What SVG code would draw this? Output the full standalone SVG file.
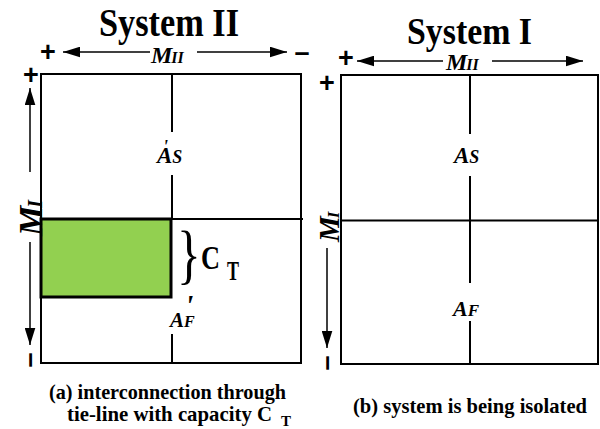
<svg xmlns="http://www.w3.org/2000/svg" width="600" height="429" viewBox="0 0 600 429">
<style>
.t{font-family:"Liberation Serif","Times New Roman",serif;font-weight:bold;fill:#000}
.i{font-style:italic}
.s{font-family:"Liberation Sans",Arial,sans-serif;font-weight:bold;fill:#000;font-size:27px}
.ln{stroke:#000;stroke-width:2;fill:none}
.ar{stroke:#000;stroke-width:1.5;fill:none}
.cap{font-size:21px}
</style>
<defs>
<marker id="ah" viewBox="0 0 16 10" refX="16" refY="5" markerWidth="17" markerHeight="11" markerUnits="userSpaceOnUse" orient="auto">
<path d="M0,0 L16,5 L0,10 Z" fill="#000"/>
</marker>
</defs>
<rect width="600" height="429" fill="#fff"/>

<g id="title-a"><text class="t" x="99" y="36" font-size="40" textLength="140" lengthAdjust="spacingAndGlyphs">System II</text></g>
<g id="title-b"><text class="t" x="407" y="44" font-size="38" textLength="125" lengthAdjust="spacingAndGlyphs">System I</text></g>

<g id="box-a">
<rect class="ln" x="41" y="74" width="260" height="289"/>
<line class="ln" x1="41" y1="219" x2="303" y2="219"/>
<line class="ln" x1="172" y1="74" x2="172" y2="132"/>
<line class="ln" x1="172" y1="175" x2="172" y2="219"/>
<line class="ln" x1="172" y1="334" x2="172" y2="363"/>
</g>
<g id="tie-line">
<rect x="41" y="219" width="130" height="78" fill="#92D050" stroke="#000" stroke-width="3"/>
</g>

<g id="box-b">
<rect class="ln" x="341" y="75" width="257" height="289"/>
<line class="ln" x1="341" y1="220.5" x2="598" y2="220.5"/>
<line class="ln" x1="470" y1="75" x2="470" y2="134"/>
<line class="ln" x1="470" y1="176" x2="470" y2="283"/>
<line class="ln" x1="470" y1="321" x2="470" y2="364"/>
</g>

<g id="connectors">
<line class="ar" x1="150" y1="52" x2="63" y2="52" marker-end="url(#ah)"/>
<line class="ar" x1="197" y1="52" x2="287" y2="52" marker-end="url(#ah)"/>
<line class="ar" x1="443" y1="61" x2="357" y2="61" marker-end="url(#ah)"/>
<line class="ar" x1="492" y1="61" x2="583" y2="61" marker-end="url(#ah)"/>
<line class="ar" x1="30" y1="172" x2="30" y2="88" marker-end="url(#ah)"/>
<line class="ar" x1="30" y1="242" x2="30" y2="345" marker-end="url(#ah)"/>
<line class="ar" x1="327" y1="248" x2="327" y2="348" marker-end="url(#ah)"/>
</g>

<g id="axis-labels">
<text class="s" x="48" y="61" text-anchor="middle">+</text>
<text class="s" x="302" y="61" text-anchor="middle">–</text>
<text class="s" x="31" y="84" text-anchor="middle">+</text>
<text class="s" text-anchor="middle" transform="translate(38,360) rotate(-90)">–</text>
<text class="s" x="346" y="67" text-anchor="middle">+</text>
<text class="s" x="327" y="92" text-anchor="middle">+</text>
<text class="s" text-anchor="middle" transform="translate(335,363) rotate(-90)">–</text>

<text class="t i" x="151" y="63" font-size="24">M<tspan font-size="16" dx="-1">II</tspan></text>
<text class="t i" x="446" y="70" font-size="24">M<tspan font-size="16" dx="-1">II</tspan></text>
<text class="t i" font-size="34" transform="translate(42,236) rotate(-90)">M<tspan font-size="20" dx="-2">I</tspan></text>
<text class="t i" font-size="29" transform="translate(339,242) rotate(-90)">M<tspan font-size="17" dx="-2">I</tspan></text>
</g>

<g id="region-labels">
<text class="t i" x="157" y="163" font-size="23">A<tspan font-size="18">S</tspan></text>
<text class="t i" x="163" y="153" font-size="18">'</text>
<text class="t i" x="454" y="163" font-size="23">A<tspan font-size="18">S</tspan></text>
<text class="t i" x="170" y="327" font-size="21">A<tspan font-size="16">F</tspan></text>
<text class="t i" x="185" y="315" font-size="30">'</text>
<text class="t i" x="453" y="316" font-size="22">A<tspan font-size="17">F</tspan></text>
</g>

<g id="capacity-label">
<text class="t" font-size="66" transform="translate(177,276) scale(0.75,1)" style="font-weight:normal">}</text>
<text class="t" x="201" y="269" font-size="33" textLength="19" lengthAdjust="spacingAndGlyphs">C</text>
<text class="t" x="227" y="280" font-size="27" textLength="12" lengthAdjust="spacingAndGlyphs">T</text>
</g>

<g id="captions">
<text class="t cap" x="49" y="399" textLength="237" lengthAdjust="spacingAndGlyphs">(a) interconnection through</text>
<text class="t cap" x="67" y="421" textLength="205" lengthAdjust="spacingAndGlyphs">tie-line with capacity C</text>
<text class="t" x="281" y="426" font-size="15">T</text>
<text class="t cap" x="353" y="413" textLength="234" lengthAdjust="spacingAndGlyphs">(b) system is being isolated</text>
</g>
</svg>
